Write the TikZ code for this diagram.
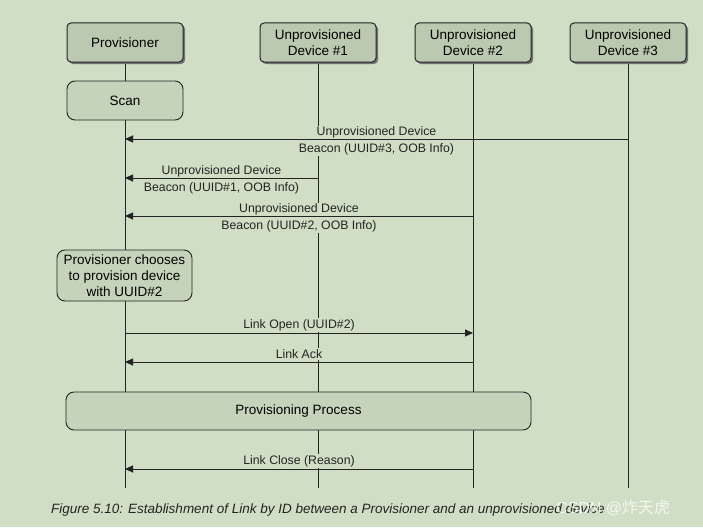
\documentclass[tikz,border=0pt]{standalone}
\usepackage{fontspec}
\setmainfont{Liberation Sans}
\newfontfamily\cjkfont{Noto Sans CJK SC}
\usetikzlibrary{arrows.meta,shadows}
\pgfdeclarelayer{back}
\pgfsetlayers{back,main}
\definecolor{bg}{RGB}{207,222,196}
\definecolor{boxfill}{RGB}{186,201,176}
\definecolor{softfill}{RGB}{196,211,186}
\definecolor{ink}{RGB}{35,35,35}
\tikzset{
  actor/.style={draw=ink, line width=1pt, fill=boxfill, rounded corners=4pt,
    minimum width=116pt, minimum height=39pt, align=center, inner sep=1pt,
    font=\fontsize{13.5}{15.5}\selectfont,
    drop shadow={shadow xshift=2pt, shadow yshift=-2pt, fill=black!55, opacity=1}},
  action/.style={draw=ink, line width=0.9pt, fill=softfill, rounded corners=8pt,
    align=center, inner sep=1pt, font=\fontsize{13.5}{16}\selectfont},
  life/.style={draw=ink, line width=0.9pt},
  msg/.style={draw=ink, line width=0.9pt, -{Triangle[length=8pt,width=7pt]}},
  lbl/.style={fill=bg, inner sep=1pt, align=center, text=ink,
    font=\fontsize{12.3}{17}\selectfont},
}
\begin{document}
\begin{tikzpicture}[x=1pt,y=-1pt]
\useasboundingbox (0,0) rectangle (703,527);
% actors
\node[actor] (p)  at (125,42.5) {Provisioner};
\node[actor] (d1) at (318,42.5) {Unprovisioned\\Device \#1};
\node[actor] (d2) at (473,42.5) {Unprovisioned\\Device \#2};
\node[actor] (d3) at (628,42.5) {Unprovisioned\\Device \#3};
% lifeline ends
\coordinate (pe)  at (125,488);
\coordinate (d1e) at (318,488);
\coordinate (d2e) at (473,488);
\coordinate (d3e) at (628,488);
\begin{pgfonlayer}{back}
\fill[bg] (0,0) rectangle (703,527);
\draw[life] (p) -- (pe);
\draw[life] (d1) -- (d1e);
\draw[life] (d2) -- (d2e);
\draw[life] (d3) -- (d3e);
\end{pgfonlayer}
% scan
\node[action, minimum width=116pt, minimum height=39pt] (scan) at (125,100.5) {Scan};
% beacons
\node[lbl] (m1) at (376.5,141) {Unprovisioned Device\\Beacon (UUID\#3, OOB Info)};
\coordinate (m1y) at (0,139);
\draw[msg] (d3 |- m1y) -- (p |- m1y);
\node[lbl] (m2) at (221.5,180) {Unprovisioned Device\\Beacon (UUID\#1, OOB Info)};
\coordinate (m2y) at (0,178);
\draw[msg] (d1 |- m2y) -- (p |- m2y);
\node[lbl] (m3) at (299,218) {Unprovisioned Device\\Beacon (UUID\#2, OOB Info)};
\coordinate (m3y) at (0,216);
\draw[msg] (d2 |- m3y) -- (p |- m3y);
% choose
\node[action, minimum width=135pt, minimum height=51pt] (choose) at (124.5,275.5)
  {Provisioner chooses\\to provision device\\with UUID\#2};
% link open / ack
\node[lbl] (lo) at (299,325) {Link Open (UUID\#2)};
\coordinate (loy) at (0,333);
\draw[msg] (p |- loy) -- (d2 |- loy);
\node[lbl] (la) at (299,354) {Link Ack};
\coordinate (lay) at (0,362);
\draw[msg] (d2 |- lay) -- (p |- lay);
% provisioning process
\node[action, minimum width=465pt, minimum height=38pt] (pp) at (298.5,411) {Provisioning Process};
% link close
\node[lbl] (lc) at (299,461) {Link Close (Reason)};
\coordinate (lcy) at (0,469);
\draw[msg] (d2 |- lcy) -- (p |- lcy);
% caption
\node[anchor=west, inner sep=0pt, text=ink, font=\itshape\fontsize{13.5}{15}\selectfont] (cap) at (51,510)
  {Figure 5.10: Establishment of Link by ID between a Provisioner and an unprovisioned device};
\node[anchor=west, inner sep=0pt, text=white, opacity=0.75, font=\fontsize{16}{18}\selectfont] (wm) at (556,508)
  {CSDN @{\cjkfont 炸天虎}};
\end{tikzpicture}
\end{document}
